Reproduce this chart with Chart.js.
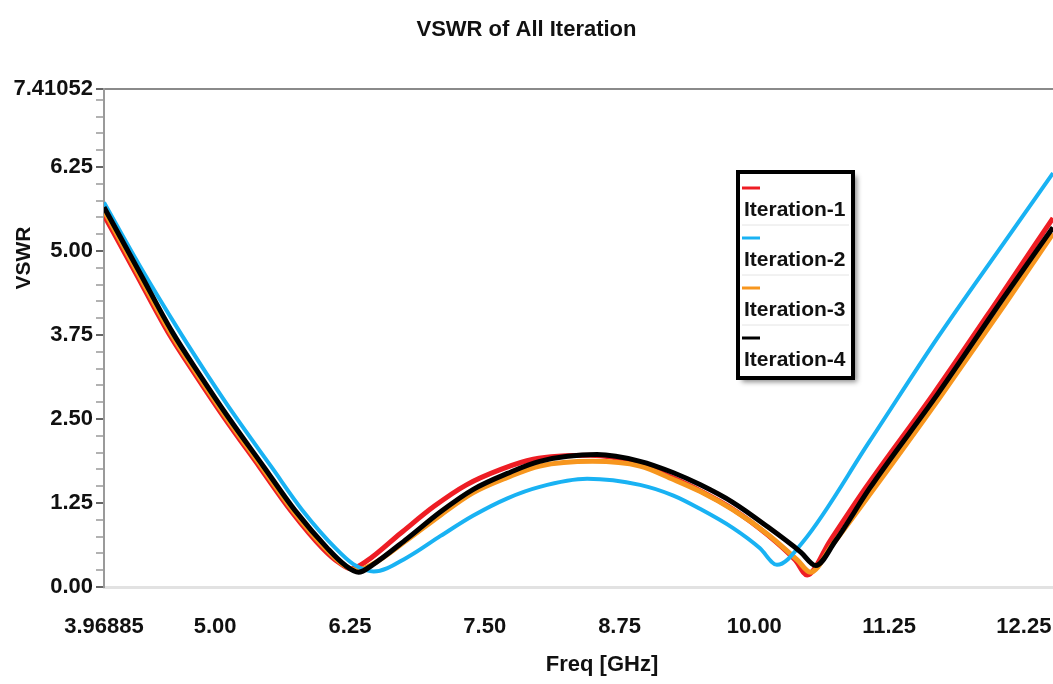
<!DOCTYPE html>
<html lang="en">
<head>
<meta charset="UTF-8">
<title>VSWR of All Iteration</title>
<style>
  body { margin: 0; background: #fff; }
</style>
</head>
<body>
<canvas id="vswrChart" width="1053" height="684"></canvas>
<script src="https://cdn.jsdelivr.net/npm/chart.js"></script>
<script>
// frequency (GHz) / VSWR
const freqIter1 = [3.969, 4.26, 4.56, 4.82, 5.08, 5.41, 5.70, 6.00, 6.15, 6.26, 6.40, 6.72, 7.03, 7.33, 7.65, 7.95, 8.48, 8.90, 9.25, 9.50, 9.80, 10.12, 10.38, 10.49, 10.70, 11.03, 11.66, 12.27, 12.77];
const vswrIter1 = [5.53, 4.68, 3.80, 3.15, 2.53, 1.79, 1.14, 0.57, 0.36, 0.27, 0.38, 0.80, 1.20, 1.52, 1.75, 1.90, 1.96, 1.85, 1.62, 1.43, 1.16, 0.78, 0.40, 0.18, 0.68, 1.47, 2.87, 4.30, 5.49];

const freqIter2 = [3.969, 4.30, 4.67, 4.93, 5.19, 5.52, 5.81, 6.12, 6.28, 6.40, 6.47, 6.78, 7.09, 7.39, 7.71, 8.01, 8.45, 8.94, 9.25, 9.50, 9.80, 10.05, 10.21, 10.45, 11.07, 11.70, 12.31, 12.77];
const vswrIter2 = [5.72, 4.78, 3.80, 3.15, 2.53, 1.79, 1.14, 0.57, 0.34, 0.25, 0.23, 0.44, 0.76, 1.06, 1.32, 1.49, 1.61, 1.52, 1.36, 1.16, 0.88, 0.58, 0.33, 0.67, 2.17, 3.71, 5.11, 6.16];

const freqIter3 = [3.969, 4.28, 4.58, 4.84, 5.10, 5.43, 5.72, 6.03, 6.18, 6.31, 6.45, 6.78, 7.09, 7.39, 7.71, 8.01, 8.50, 8.94, 9.25, 9.50, 9.80, 10.12, 10.40, 10.52, 10.72, 11.09, 11.72, 12.33, 12.77];
const vswrIter3 = [5.60, 4.68, 3.80, 3.15, 2.53, 1.79, 1.14, 0.56, 0.34, 0.25, 0.33, 0.70, 1.07, 1.40, 1.63, 1.80, 1.87, 1.80, 1.60, 1.42, 1.15, 0.79, 0.40, 0.22, 0.62, 1.42, 2.82, 4.22, 5.26];

const freqIter4 = [3.969, 4.30, 4.60, 4.86, 5.12, 5.45, 5.74, 6.05, 6.20, 6.33, 6.46, 6.78, 7.09, 7.39, 7.71, 8.01, 8.54, 8.94, 9.25, 9.50, 9.80, 10.12, 10.43, 10.57, 10.75, 11.07, 11.70, 12.31, 12.77];
const vswrIter4 = [5.65, 4.68, 3.80, 3.15, 2.53, 1.79, 1.14, 0.56, 0.33, 0.22, 0.33, 0.72, 1.12, 1.45, 1.69, 1.87, 1.97, 1.87, 1.70, 1.52, 1.26, 0.90, 0.52, 0.32, 0.68, 1.47, 2.87, 4.30, 5.35];

const seriesNames = ['Iteration-1', 'Iteration-2', 'Iteration-3', 'Iteration-4'];
const seriesColors = ['#ee1d24', '#19b2f3', '#f7961e', '#000000'];

const xTickValues = [3.96885, 5.00, 6.25, 7.50, 8.75, 10.00, 11.25, 12.50];
const xTickLabels = ['3.96885', '5.00', '6.25', '7.50', '8.75', '10.00', '11.25', '12.25'];
const yTickValues = [0, 1.25, 2.50, 3.75, 5.00, 6.25, 7.41052];
const yTickLabels = ['0.00', '1.25', '2.50', '3.75', '5.00', '6.25', '7.41052'];

const xMin = 3.96885, xMax = 12.77;
const yMin = 0, yMax = 7.41052;

const chartTitle = 'VSWR of All Iteration';
const xTitle = 'Freq [GHz]';
const yTitle = 'VSWR';

const FONT = "'Liberation Sans', Arial, sans-serif";

function toPoints(xs, ys) {
  return xs.map((x, i) => ({ x: x, y: ys[i] }));
}

const allFreq = [freqIter1, freqIter2, freqIter3, freqIter4];
const allVswr = [vswrIter1, vswrIter2, vswrIter3, vswrIter4];
const drawOrder = [4, 2, 3, 1];   // black on top, red underneath
const lineWidths = [5, 4, 5, 5];

const datasets = seriesNames.map((name, i) => ({
  label: name,
  data: toPoints(allFreq[i], allVswr[i]),
  borderColor: seriesColors[i],
  backgroundColor: seriesColors[i],
  borderWidth: lineWidths[i],
  pointRadius: 0,
  cubicInterpolationMode: 'monotone',
  order: drawOrder[i]
}));

// legend box drawn in the plot like the HFSS one: short line above each name
const legendBox = {
  id: 'legendBox',
  afterDraw(chart) {
    const ctx = chart.ctx;
    const x = 738, y = 172, w = 115, h = 206;
    ctx.save();
    ctx.shadowColor = 'rgba(0,0,0,0.45)';
    ctx.shadowBlur = 5;
    ctx.shadowOffsetX = 4;
    ctx.shadowOffsetY = 4;
    ctx.fillStyle = '#fff';
    ctx.fillRect(x, y, w, h);
    ctx.shadowColor = 'transparent';
    ctx.lineWidth = 4;
    ctx.strokeStyle = '#000';
    ctx.strokeRect(x, y, w, h);
    chart.data.datasets.forEach((ds, i) => {
      const top = y + 16 + i * 50;
      ctx.strokeStyle = ds.borderColor;
      ctx.lineWidth = 3;
      ctx.beginPath();
      ctx.moveTo(x + 4, top);
      ctx.lineTo(x + 22, top);
      ctx.stroke();
      ctx.fillStyle = '#111';
      ctx.font = 'bold 21px ' + FONT;
      ctx.textBaseline = 'middle';
      ctx.textAlign = 'left';
      ctx.fillText(ds.label, x + 6, top + 22);
      if (i < 3) {
        ctx.strokeStyle = '#e4e4e4';
        ctx.lineWidth = 1;
        ctx.beginPath();
        ctx.moveTo(x + 4, top + 37);
        ctx.lineTo(x + w - 4, top + 37);
        ctx.stroke();
      }
    });
    ctx.restore();
  }
};

// axis titles sit off-centre in the original, so place them by hand
const axisTitles = {
  id: 'axisTitles',
  afterDraw(chart) {
    const ctx = chart.ctx;
    ctx.save();
    ctx.fillStyle = '#111';
    ctx.font = 'bold 22px ' + FONT;
    ctx.textAlign = 'center';
    ctx.textBaseline = 'middle';
    ctx.fillText(xTitle, 602, 665);
    ctx.translate(24, 258);
    ctx.rotate(-Math.PI / 2);
    ctx.font = 'bold 21px ' + FONT;
    ctx.fillText(yTitle, 0, 0);
    ctx.restore();
  }
};

const ctx = document.getElementById('vswrChart').getContext('2d');
new Chart(ctx, {
  type: 'line',
  data: { datasets: datasets },
  options: {
    responsive: false,
    animation: false,
    layout: { padding: 0 },
    plugins: {
      legend: { display: false },
      tooltip: { enabled: false },
      title: {
        display: true,
        text: chartTitle,
        color: '#111',
        font: { family: FONT, size: 22, weight: 'bold' },
        padding: { top: 17, bottom: 45.6 }
      }
    },
    scales: {
      x: {
        type: 'linear',
        min: xMin,
        max: xMax,
        afterBuildTicks(scale) {
          scale.ticks = xTickValues.map(v => ({ value: v }));
        },
        afterFit(scale) {
          scale.height = 97;
          scale.paddingRight = 0;
        },
        ticks: {
          color: '#111',
          font: { family: FONT, size: 22, weight: 'bold' },
          padding: 27,
          maxRotation: 0,
          autoSkip: false,
          callback: (value, index) => xTickLabels[index]
        },
        grid: { display: false, drawTicks: false },
        border: { display: true, color: '#e2e2e2', width: 3 }
      },
      y: {
        type: 'linear',
        min: yMin,
        max: yMax,
        afterBuildTicks(scale) {
          const t = [];
          for (let k = 0; k * 0.25 < yMax - 0.1; k++) t.push({ value: k * 0.25 });
          t.push({ value: yMax });
          scale.ticks = t;
        },
        afterFit(scale) { scale.width = 104; },
        ticks: {
          color: '#111',
          font: { family: FONT, size: 22, weight: 'bold' },
          padding: 3,
          autoSkip: false,
          callback: (value) => {
            const i = yTickValues.findIndex(v => Math.abs(v - value) < 1e-6);
            return i >= 0 ? yTickLabels[i] : '';
          }
        },
        grid: {
          drawOnChartArea: true,
          tickLength: 8,
          lineWidth: 2,
          color: (c) => (c.tick && Math.abs(c.tick.value - yMax) < 1e-6) ? '#8a8a8a' : 'rgba(0,0,0,0)',
          tickColor: (c) => (c.tick && yTickValues.some(v => Math.abs(v - c.tick.value) < 1e-6)) ? '#666' : '#999',
          tickWidth: (c) => (c.tick && yTickValues.some(v => Math.abs(v - c.tick.value) < 1e-6)) ? 2 : 1.5
        },
        border: { display: true, color: '#9a9a9a', width: 2 }
      }
    }
  },
  plugins: [legendBox, axisTitles]
});
</script>
</body>
</html>
